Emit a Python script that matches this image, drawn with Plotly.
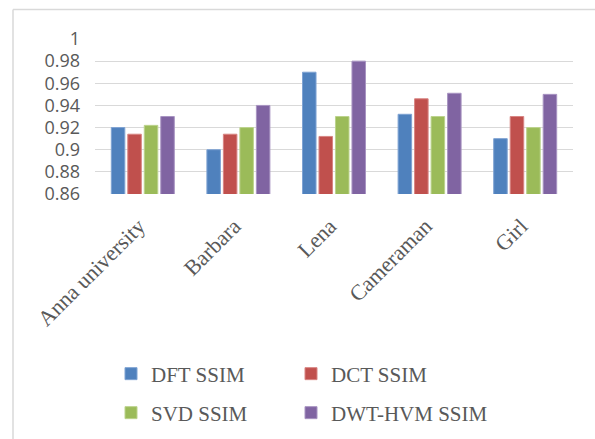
import plotly.graph_objects as go

# Test images and SSIM scores per watermarking method
images = ["Anna university", "Barbara", "Lena", "Cameraman", "Girl"]
dft_ssim = [0.920, 0.900, 0.970, 0.932, 0.910]
dct_ssim = [0.914, 0.914, 0.912, 0.946, 0.930]
svd_ssim = [0.922, 0.920, 0.930, 0.930, 0.920]
dwt_hvm_ssim = [0.930, 0.940, 0.980, 0.951, 0.950]
y_ticks = [0.86, 0.88, 0.90, 0.92, 0.94, 0.96, 0.98, 1.00]
y_tick_text = ["0.86", "0.88", "0.9", "0.92", "0.94", "0.96", "0.98", "1"]

series = [
    ("DFT SSIM", dft_ssim, "#4F81BD", "#7FA3D3"),
    ("DCT SSIM", dct_ssim, "#C0504D", "#D88583"),
    ("SVD SSIM", svd_ssim, "#9BBB59", "#BCD38D"),
    ("DWT-HVM SSIM", dwt_hvm_ssim, "#8064A2", "#A894C2"),
]

W, H = 595, 439
L, R, T, B = 95, 22, 39, 245
pw, ph = W - L - R, H - T - B

def px_x(x):
    return (x - L) / pw

def px_y(y):
    return (H - B - y) / ph

# legend entries laid out in a 2x2 grid (left edge px, centre row px)
legend_slots = [(111, 374), (291, 374), (111, 413), (291, 413)]
legend_ids = ["legend", "legend2", "legend3", "legend4"]

fig = go.Figure()
for (name, vals, color, edge), leg in zip(series, legend_ids):
    fig.add_trace(go.Bar(
        x=images, y=vals, name=name, legend=leg,
        marker=dict(color=color, line=dict(color=edge, width=1)),
    ))

text_color = "#595959"
legend_layout = {}
for leg, (lx, ly) in zip(legend_ids, legend_slots):
    legend_layout[leg] = dict(
        x=px_x(lx), y=px_y(ly), xanchor="left", yanchor="middle",
        orientation="h",
        font=dict(family="Liberation Serif", size=21, color=text_color),
        bgcolor="rgba(0,0,0,0)", borderwidth=0,
    )

fig.update_layout(
    width=W, height=H,
    margin=dict(l=L, r=R, t=T, b=B, autoexpand=False),
    paper_bgcolor="white", plot_bgcolor="white",
    barmode="group", bargap=0.31, bargroupgap=0.18,
    showlegend=True,
    **legend_layout,
    xaxis=dict(
        tickangle=-45, showline=False, showgrid=False, ticks="",
        automargin=False,
        ticklabelshift=-4, ticklabelstandoff=14,
        tickfont=dict(family="Liberation Serif", size=22, color=text_color),
    ),
    yaxis=dict(
        range=[0.86, 1.0], tickvals=y_ticks, ticktext=y_tick_text,
        showgrid=True, gridcolor="#D9D9D9", gridwidth=1.3,
        zeroline=False, showline=False, ticks="",
        automargin=False,
        ticklabelstandoff=14,
        tickfont=dict(family="Open Sans", size=18, color=text_color),
    ),
    shapes=[
        # chart frame (top and left edges)
        dict(type="line", xref="paper", yref="paper",
             x0=px_x(13), x1=px_x(600), y0=px_y(9.5), y1=px_y(9.5),
             line=dict(color="#D9D9D9", width=1.5)),
        dict(type="line", xref="paper", yref="paper",
             x0=px_x(13), x1=px_x(13), y0=px_y(9.5), y1=px_y(445),
             line=dict(color="#D9D9D9", width=1.5)),
    ],
)

fig.write_html("out.html")
